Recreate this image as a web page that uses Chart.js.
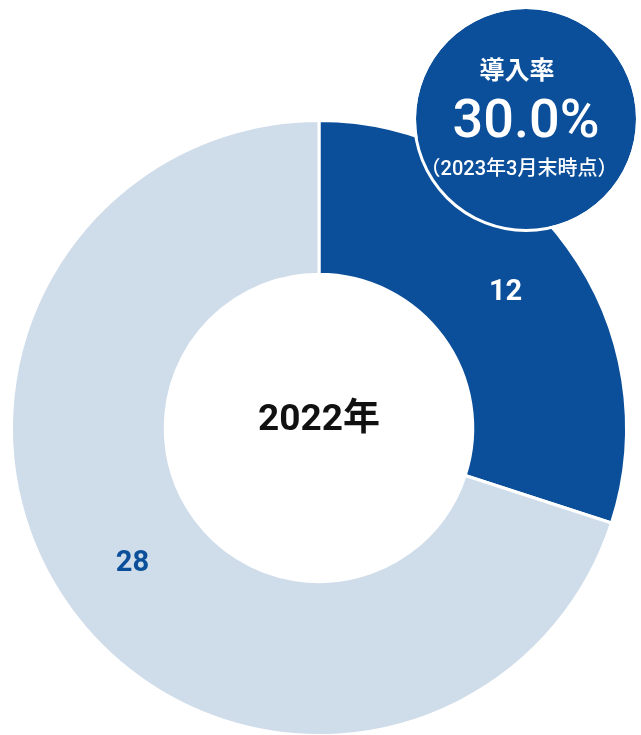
<!DOCTYPE html>
<html>
<head>
<meta charset="utf-8">
<script src="https://cdn.jsdelivr.net/npm/chart.js@4"></script>
<style>
    html, body { margin: 0; padding: 0; background: #fff; overflow: hidden; }
    #wrap { width: 641px; height: 760px; position: relative; }
</style>
</head>
<body>
<div id="wrap"><canvas id="rateChart"></canvas></div>
<script>
// data
const categories = ["導入", "未導入"];
const counts = [12, 28];
const sliceColors = ["#0b4f9a", "#cfdcea"];
const labelColors = ["#ffffff", "#0b4f9a"];
const centerLabel = "2022年";
const badgeTitle = "導入率";
const badgeValue = "30.0%";
const badgeNote = "（2023年3月末時点）";

const font = "Roboto, 'Noto Sans CJK JP', sans-serif";

// draws text squeezed horizontally, the picture uses a narrow face
function narrowText(ctx, txt, x, y, sx) {
    ctx.save();
    ctx.translate(x, y);
    ctx.scale(sx, 1);
    ctx.fillText(txt, 0, 0);
    ctx.restore();
}

// slice labels + center text + rate badge
const decoPlugin = {
    id: "deco",
    afterDatasetsDraw(chart) {
        var ctx = chart.ctx;
        var meta = chart.getDatasetMeta(0);
        ctx.save();
        ctx.textAlign = "center";
        ctx.textBaseline = "middle";

        // value labels in the middle of each slice
        meta.data.forEach(function(arc, i) {
            var pos = arc.tooltipPosition();
            ctx.fillStyle = labelColors[i];
            ctx.font = "bold 30px " + font;
            narrowText(ctx, String(counts[i]), pos.x, pos.y, 0.97);
        });

        // center text
        var first = meta.data[0];
        ctx.fillStyle = "#111";
        ctx.font = "bold 37px " + font;
        narrowText(ctx, centerLabel, first.x, first.y - 7, 1.0);

        // badge
        var bx = 526, by = 119, br = 110;
        ctx.beginPath();
        ctx.arc(bx, by, br, 0, Math.PI * 2);
        ctx.fillStyle = "#0b4f9a";
        ctx.fill();
        ctx.lineWidth = 3;
        ctx.strokeStyle = "#ffffff";
        ctx.beginPath();
        ctx.arc(bx, by, br + 1.5, 0, Math.PI * 2);
        ctx.stroke();

        ctx.fillStyle = "#ffffff";
        ctx.font = "bold 25px " + font;
        narrowText(ctx, badgeTitle, 517, 73, 1.0);
        ctx.font = "500 54px " + font;
        narrowText(ctx, badgeValue, 526, 123, 1.0);
        ctx.font = "500 20px " + font;
        narrowText(ctx, badgeNote, 519, 170, 1.0);
        ctx.restore();
    }
};

new Chart("rateChart", {
    type: "doughnut",
    data: {
        labels: categories,
        datasets: [{
            data: counts,
            backgroundColor: sliceColors,
            borderColor: "#ffffff",
            borderWidth: 3
        }]
    },
    options: {
        responsive: true,
        maintainAspectRatio: false,
        animation: false,
        cutout: "50%",
        layout: { padding: { top: 119, bottom: 23, left: 10, right: 13 } },
        plugins: {
            legend: { display: false },
            tooltip: { enabled: false }
        }
    },
    plugins: [decoPlugin]
});
</script>
</body>
</html>
